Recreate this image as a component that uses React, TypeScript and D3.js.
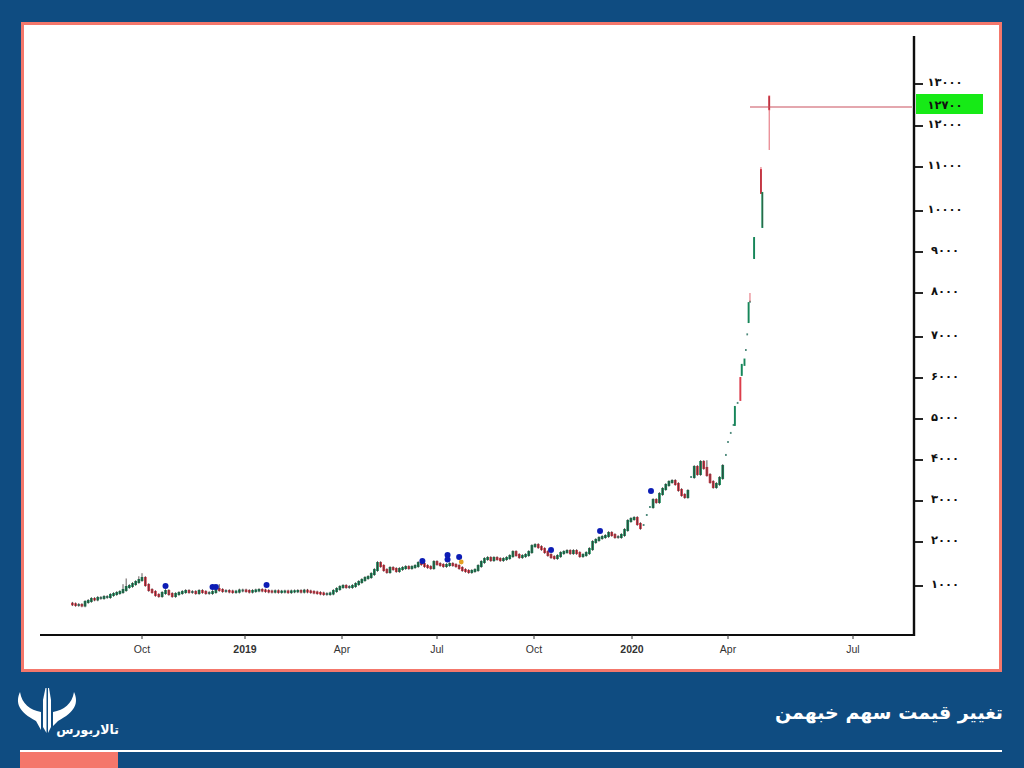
import React from "react";
import * as d3 from "d3";

const parse = d3.timeParse("%Y-%m-%d") as (s: string) => Date;

// Regular candles, one every three days from 27 Jul 2018; each opens at the previous close
const closes2018a = [585,569,569,557,637,660,705,694,728,728,750,750,796,818,841,864,909,977,1000,1045,1091,1136];
const closes2018b = [1182,1023,909,864,796,773,841,886,818,773,818,841,864,886,864,864,841,886,864,841,841,864,932,909,886,886,875,864,871,898,898];
const closes2019a = [886,871,886,898,909,898,886,875,871,880,866,871,875,862,877,880,886,871,893,875,864,852,841,830,818,818,830,886,932,977];
const closes2019b = [1000,977,977,1000,1045,1091,1136,1182,1204,1272,1363,1522,1454,1363,1318,1409,1386,1341,1386,1409,1431,1409,1431,1454,1522,1500,1454,1431,1409,1545];
const closes2019c = [1500,1477,1454,1477,1500,1477,1454,1409,1363,1341,1318,1341,1363,1454,1545,1613,1636,1590,1636,1613,1590,1613,1636,1681,1772,1704,1658,1681,1704,1772,1908];
const closes2019d = [1931,1885,1840,1772,1704,1658,1636,1681,1749,1772,1795,1749,1795,1749,1681,1704,1749,1840,2000,2049,2098,2122,2146,2220,2171,2122,2122,2171,2293,2512,2561];
const closes2020 = [2586,2439,2342,2415,2659,2854,3025,2976,3171,3293,3391,3464,3488,3415,3269,3147,3098,3244,3586,3830,3659,3952,3806,3635,3464,3342,3415,3562,3854,4123];
const regularCloses = [...closes2018a, ...closes2018b, ...closes2019a, ...closes2019b, ...closes2019c, ...closes2019d, ...closes2020];
const limitMoveIndices = [178, 179, 180, 193, 204]; // one-price days, drawn as dots

// Final run-up, individual candles
const lateDates = ["2020-04-01","2020-04-03","2020-04-05","2020-04-06","2020-04-08","2020-04-10","2020-04-11","2020-04-13","2020-04-14","2020-04-15","2020-04-16","2020-04-17","2020-04-20","2020-04-25","2020-04-26","2020-05-01"];
const lateOpens = [4440,4660,4855,4855,5392,6000,6075,6320,6680,7060,7340,7800,8854,10930,9610,12700];
const lateHighs = [4440,4660,4855,5294,5392,6000,6320,6450,6680,7060,7770,8000,9341,11000,10410,12700];
const lateLows = [4440,4660,4855,4855,5392,5465,6075,6320,6680,7060,7340,7800,8854,10410,9610,11415];
const lateCloses = [4440,4660,4855,5294,5392,5465,6320,6450,6680,7060,7770,7800,9341,10410,10410,12400];

// Blue event markers
const eventDates = ["2018-10-22","2018-12-03","2018-12-06","2019-01-21","2019-06-17","2019-07-11","2019-07-11","2019-07-22","2019-10-17","2019-12-02","2020-01-19"];
const eventValues = [1000,977,977,1023,1568,1704,1602,1658,1817,2268,3244];
const orangeDate = "2019-07-24";
const orangeValue = 1545;

// Notable long wicks on regular candles: index, high
const wickIndices = [16, 17, 21, 22, 45, 198];
const wickHighs = [1000, 1130, 1180, 1250, 1000, 3950];

const priceLineStart = "2020-04-17";
const priceLineValue = 12452;
const priceLineLabel = "۱۲۷۰۰";

const yTickValues = [1000,2000,3000,4000,5000,6000,7000,8000,9000,10000,11000,12000,13000];
const yTickLabels = ["۱۰۰۰","۲۰۰۰","۳۰۰۰","۴۰۰۰","۵۰۰۰","۶۰۰۰","۷۰۰۰","۸۰۰۰","۹۰۰۰","۱۰۰۰۰","۱۱۰۰۰","۱۲۰۰۰","۱۳۰۰۰"];
const xTickDates = ["2018-10-01","2019-01-01","2019-04-01","2019-07-01","2019-10-01","2020-01-01","2020-04-01","2020-07-01"];
const xTickLabels = ["Oct","2019","Apr","Jul","Oct","2020","Apr","Jul"];
const title = "تغییر قیمت سهم خبهمن";
const brand = "تالاربورس";

const NAVY = "#0f4c81";
const CORAL = "#f4776b";
const UP = "#17875a";
const DOWN = "#dc3d4c";
const WICK = "#3b2e30";

const x = d3.scaleTime()
  .domain(["2018-07-01","2018-10-01","2019-01-01","2019-04-01","2019-07-01","2019-10-01","2020-01-01","2020-04-01","2020-07-01","2020-09-13"].map(parse))
  .range([45,142,245,342,437,534,632,728,853,914]);
const y = d3.scaleLinear()
  .domain([0,1000,2000,3000,4000,5000,6000,7000,8000,9000,10000,11000,12000,13000,14000])
  .range([630,586,542,501,460,419,378,337,293,252,211,167,126,84,42]);

type Candle = { date: Date; o: number; h: number; l: number; c: number; extra: number; w: number };
const regularDates = d3.range(regularCloses.length).map((i) => d3.timeDay.offset(parse("2018-07-27"), i * 3));
const candles: Candle[] = [
  ...regularCloses.map((c, i) => {
    const o = limitMoveIndices.includes(i) ? c : i === 0 ? c + 12 : regularCloses[i - 1];
    const wi = wickIndices.indexOf(i);
    return {
      date: regularDates[i],
      o,
      c,
      h: wi >= 0 ? wickHighs[wi] : Math.max(o, c),
      l: Math.min(o, c),
      extra: limitMoveIndices.includes(i) ? 0 : 1.8,
      w: limitMoveIndices.includes(i) ? 1.8 : 2.7,
    };
  }),
  ...lateDates.map((d, i) => ({
    date: parse(d),
    o: lateOpens[i],
    h: lateHighs[i],
    l: lateLows[i],
    c: lateCloses[i],
    extra: 0,
    w: lateOpens[i] === lateCloses[i] ? 1.7 : 1.9,
  })),
];

export default function App() {
  return (
    <svg width={1024} height={768} viewBox="0 0 1024 768" style={{ position: "absolute", left: 0, top: 0, display: "block" }}>
      <defs>
        <filter id="soft" x="-5%" y="-5%" width="110%" height="110%">
          <feGaussianBlur stdDeviation="0.35" />
        </filter>
      </defs>
      <rect width={1024} height={768} fill={NAVY} />
      <rect x={22.5} y={23.5} width={978} height={647} fill="#fff" stroke={CORAL} strokeWidth={3} />

      <g filter="url(#soft)">
        {/* candles */}
        {candles.map((d, i) => {
          const cx = x(d.date);
          const isUp = d.c > d.o;
          return (
            <g key={i}>
              <line
                x1={cx}
                x2={cx}
                y1={y(Math.max(d.o, d.c)) - 1}
                y2={y(Math.min(d.o, d.c)) + 1}
                stroke={d.o === d.c ? "#4f8a7c" : isUp ? UP : DOWN}
                strokeWidth={d.w}
              />
              <line x1={cx} x2={cx} y1={y(d.h) - d.extra} y2={y(d.l) + d.extra} stroke={i >= regularCloses.length ? (isUp ? UP : DOWN) : WICK} strokeWidth={0.8} />
            </g>
          );
        })}
        {/* dark core of the last large candles */}
        {candles.slice(-3).map((d, i) => (
          <line key={i} x1={x(d.date)} x2={x(d.date)} y1={y(Math.max(d.o, d.c))} y2={y(Math.min(d.o, d.c))} stroke="#5a2328" strokeWidth={0.6} opacity={0.6} />
        ))}

        {/* event markers */}
        {eventDates.map((d, i) => (
          <circle key={i} cx={x(parse(d))} cy={y(eventValues[i])} r={3} fill="#0a1fb5" />
        ))}
        <circle cx={x(parse(orangeDate))} cy={y(orangeValue)} r={2.4} fill="#e3a020" />

        {/* price line */}
        <line x1={x(parse(priceLineStart))} x2={912} y1={y(priceLineValue)} y2={y(priceLineValue)} stroke="#c9505c" strokeWidth={1.2} />
        <rect x={916} y={94} width={67} height={20} fill="#12ea12" />

        {/* axes */}
        <line x1={914} x2={914} y1={36} y2={636} stroke="#111" strokeWidth={2.4} />
        <line x1={40} x2={915} y1={635} y2={635} stroke="#111" strokeWidth={2.2} />
        {yTickValues.map((v) => (
          <line key={v} x1={914} x2={923} y1={y(v)} y2={y(v)} stroke="#111" strokeWidth={1.8} />
        ))}
        {xTickDates.map((d) => (
          <line key={d} x1={x(parse(d))} x2={x(parse(d))} y1={635} y2={639} stroke="#333" strokeWidth={1} />
        ))}
      </g>

      {/* y labels */}
      {yTickValues.map((v, i) => (
        <text key={v} x={945} y={y(v) + 2} textAnchor="middle" fontFamily="DejaVu Sans" fontWeight="bold" fontSize={11.5} fill="#111" style={{ direction: "ltr" }}>
          {yTickLabels[i]}
        </text>
      ))}
      <text x={945} y={109} textAnchor="middle" fontFamily="DejaVu Sans" fontWeight="bold" fontSize={11.5} fill="#111" style={{ direction: "ltr" }}>
        {priceLineLabel}
      </text>

      {/* x labels */}
      {xTickDates.map((d, i) => (
        <text
          key={d}
          x={x(parse(d))}
          y={653}
          textAnchor="middle"
          fontFamily="Liberation Sans"
          fontSize={10.5}
          fontWeight={xTickLabels[i].length === 4 ? "bold" : "normal"}
          fill="#333"
        >
          {xTickLabels[i]}
        </text>
      ))}

      {/* footer */}
      <text x={1003} y={719} direction="rtl" fontFamily="DejaVu Sans" fontWeight="bold" fontSize={19} fill="#fff">
        {title}
      </text>
      <line x1={20} x2={1002} y1={751} y2={751} stroke="#fff" strokeWidth={2} />
      <rect x={20} y={752} width={98} height={16} fill={CORAL} />

      {/* logo */}
      <g fill="#fff">
        <path d="M20 692 C15 703 19 712 36 721 L41 730 L41 712 C30 710 22 704 20 692 Z" />
        <path d="M74 692 C79 703 75 712 58 721 L53 726 L53 712 C64 710 72 704 74 692 Z" />
        <path d="M43 700 L45.5 688 L46.5 688 L46.5 733 L43 727 Z" />
        <path d="M48 700 L48 688 L49 688 L51 700 L51 727 L48 733 Z" />
      </g>
      <text x={119} y={734} direction="rtl" fontFamily="DejaVu Sans" fontWeight="bold" fontSize={12.5} fill="#fff">
        {brand}
      </text>
    </svg>
  );
}
